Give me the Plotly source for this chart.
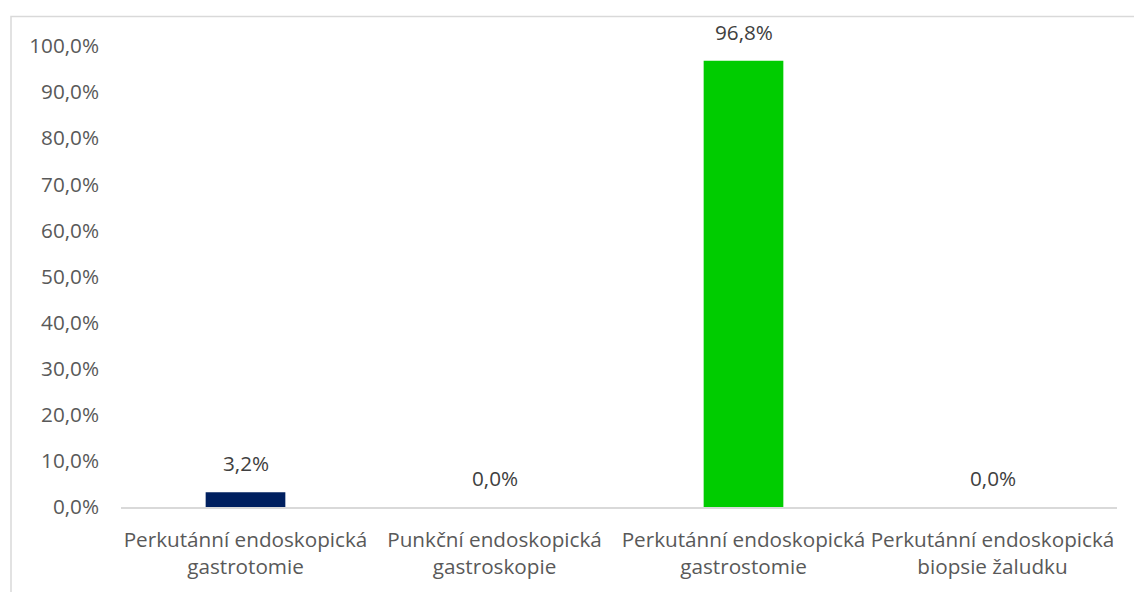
import plotly.graph_objects as go

# Procedure categories and their shares
categories = [
    "Perkutánní endoskopická<br>gastrotomie",
    "Punkční endoskopická<br>gastroskopie",
    "Perkutánní endoskopická<br>gastrostomie",
    "Perkutánní endoskopická<br>biopsie žaludku",
]
shares = [0.032, 0.0, 0.968, 0.0]
bar_colors = ["#002060", "#002060", "#00CC00", "#002060"]
tick_vals = [i / 10 for i in range(11)]
tick_text = [f"{v * 100:.1f}%".replace(".", ",") for v in tick_vals]
value_labels = [f"{v * 100:.1f}%".replace(".", ",") for v in shares]

FONT = "Open Sans"
SIZE = 20.7

fig = go.Figure(
    go.Bar(
        x=categories,
        y=shares,
        marker=dict(color=bar_colors, line=dict(width=0)),
        width=0.32,
        hoverinfo="skip",
    )
)

# Value labels sitting above each bar
for cat, val, lab in zip(categories, shares, value_labels):
    fig.add_annotation(
        x=cat,
        y=val,
        text=lab,
        showarrow=False,
        yanchor="bottom",
        yshift=13,
        font=dict(family=FONT, size=SIZE, color="#404040"),
    )

fig.update_layout(
    width=1134,
    height=592,
    margin=dict(l=121, r=17, t=46, b=85),
    paper_bgcolor="white",
    plot_bgcolor="white",
    showlegend=False,
    font=dict(family=FONT, size=SIZE, color="#595959"),
    xaxis=dict(
        type="category",
        tickangle=0,
        showgrid=False,
        showline=True,
        linecolor="#D9D9D9",
        linewidth=1.5,
        ticks="",
        ticklabelstandoff=13,
        tickfont=dict(family=FONT, size=SIZE, color="#595959"),
    ),
    yaxis=dict(
        range=[0, 1.0],
        tickvals=tick_vals,
        ticktext=tick_text,
        showgrid=False,
        zeroline=False,
        showline=False,
        ticks="",
        ticklabelstandoff=21,
        tickfont=dict(family=FONT, size=SIZE, color="#595959"),
    ),
    shapes=[
        dict(
            type="rect",
            xref="paper",
            yref="paper",
            x0=(11 - 121) / 996,
            x1=1.2,
            y0=-0.5,
            y1=(507 - 16.5) / 461,
            line=dict(color="#D9D9D9", width=1.5),
            fillcolor="rgba(0,0,0,0)",
            layer="below",
        )
    ],
)

fig.write_html("out.html")
